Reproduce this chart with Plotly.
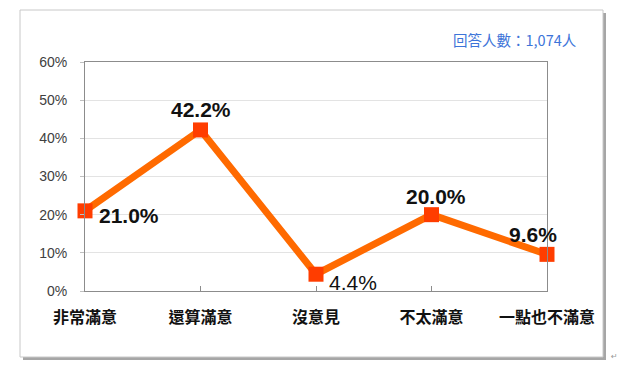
import plotly.graph_objects as go

categories = ["非常滿意", "還算滿意", "沒意見", "不太滿意", "一點也不滿意"]
values = [21.0, 42.2, 4.4, 20.0, 9.6]
value_labels = ["21.0%", "42.2%", "4.4%", "20.0%", "9.6%"]
y_ticks = [0, 10, 20, 30, 40, 50, 60]
y_tick_labels = ["0%", "10%", "20%", "30%", "40%", "50%", "60%"]
respondents_note = "回答人數：1,074人"

# label offsets (pixels) and weights per point
label_offsets = [(44, -5), (0, 20), (37, -8), (4, 18), (-14, 20)]
label_bold = [True, True, False, True, True]

W, H = 640, 378
L, R, T, B = 85, 93, 62, 87
pw, ph = W - L - R, H - T - B

def px_x(px):
    return (px - L) / pw

def px_y(py):
    return (H - B - py) / ph

x_idx = list(range(len(categories)))

fig = go.Figure()
fig.add_trace(go.Scatter(
    x=x_idx, y=values, mode="lines+markers",
    line=dict(color="#FF6A00", width=7),
    marker=dict(symbol="square", size=15, color="#FF3D00",
                line=dict(color="#FF3D00", width=0)),
    hoverinfo="skip", showlegend=False, cliponaxis=False,
))

annotations = []
for i, (v, lab) in enumerate(zip(values, value_labels)):
    dx, dy = label_offsets[i]
    annotations.append(dict(
        x=i, y=v, xref="x", yref="y", text=(f"<b>{lab}</b>" if label_bold[i] else lab),
        showarrow=False, xshift=dx, yshift=dy,
        font=dict(family="Liberation Sans, Arial, sans-serif", size=21, color="#111111"),
    ))

annotations.append(dict(
    x=px_x(578), y=px_y(39), xref="paper", yref="paper", xanchor="right", yanchor="middle",
    text=respondents_note, showarrow=False,
    font=dict(family="Noto Sans CJK TC, sans-serif", size=14.5, color="#3D74D9"),
))
annotations.append(dict(
    x=px_x(609), y=px_y(356), xref="paper", yref="paper", xanchor="left", yanchor="middle",
    text="↵", showarrow=False,
    font=dict(family="DejaVu Sans, sans-serif", size=8, color="#999999"),
))

shapes = [
    # shadow
    dict(type="rect", xref="paper", yref="paper", layer="below",
         x0=px_x(23), x1=px_x(606), y0=px_y(13), y1=px_y(360),
         fillcolor="#A6A6A6", line=dict(width=0)),
    # frame
    dict(type="rect", xref="paper", yref="paper", layer="below",
         x0=px_x(20), x1=px_x(603), y0=px_y(10), y1=px_y(357),
         fillcolor="#FFFFFF", line=dict(color="#C8C8C8", width=1)),
]

fig.update_layout(
    width=W, height=H,
    margin=dict(l=L, r=R, t=T, b=B, pad=0),
    paper_bgcolor="#FFFFFF", plot_bgcolor="#FFFFFF",
    annotations=annotations, shapes=shapes,
    xaxis=dict(
        range=[0, len(categories) - 1], tickmode="array", tickvals=x_idx, ticktext=categories,
        showgrid=False, zeroline=False, showline=True, linecolor="#8C8C8C", linewidth=1, mirror=True,
        ticks="inside", ticklen=5, tickcolor="#8C8C8C",
        tickfont=dict(family="Noto Sans CJK TC, sans-serif", size=16, color="#111111", weight="bold"),
        fixedrange=True,
    ),
    yaxis=dict(
        range=[0, 60], tickmode="array", tickvals=y_ticks, ticktext=y_tick_labels,
        showgrid=True, gridcolor="#E3E3E3", gridwidth=1, zeroline=False,
        showline=True, linecolor="#8C8C8C", linewidth=1, mirror=True,
        ticks="outside", ticklen=4, tickcolor="#C0C0C0",
        tickfont=dict(family="Liberation Sans, Arial, sans-serif", size=14, color="#404040"),
        fixedrange=True,
    ),
)
fig.update_xaxes(ticklabelstandoff=12)
fig.update_yaxes(ticklabelstandoff=10)

fig.write_html("out.html", config={"displayModeBar": False},
               post_script="document.body.style.margin='0';document.body.style.overflow='hidden';")
